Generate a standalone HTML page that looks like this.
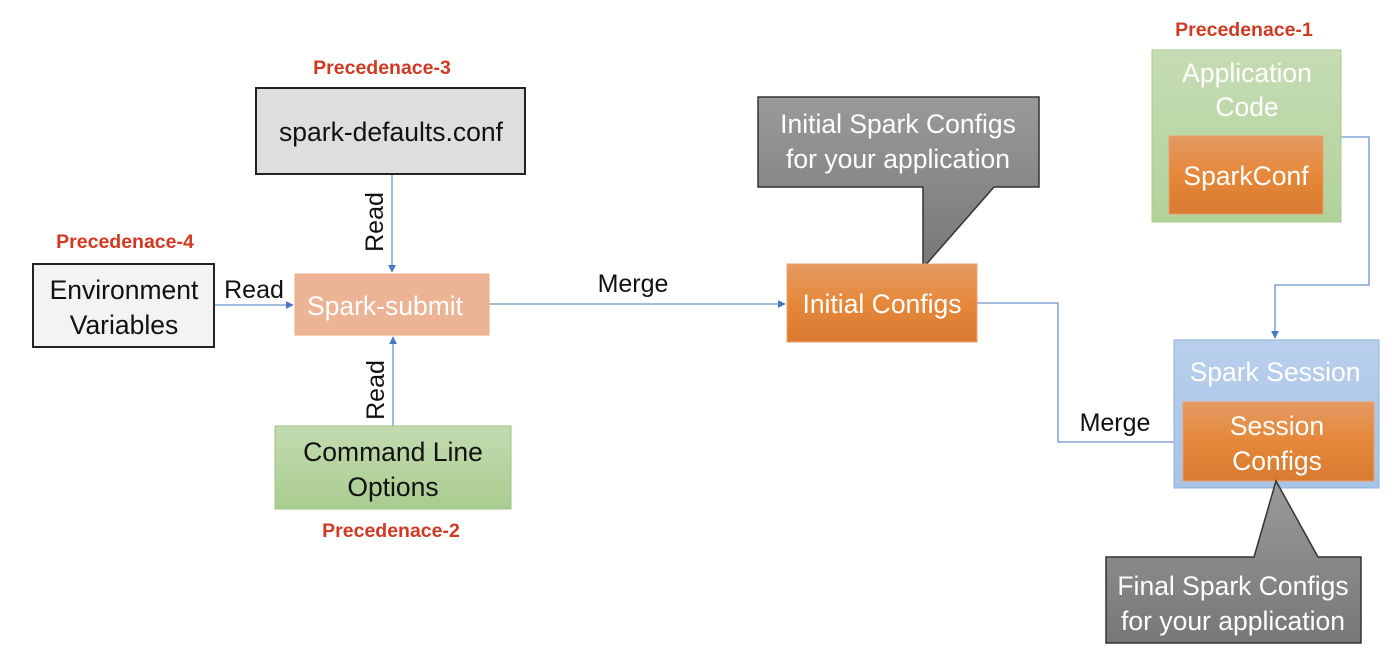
<!DOCTYPE html>
<html><head><meta charset="utf-8"><style>
html,body{margin:0;padding:0;background:#fff;}
svg{display:block;font-family:"Liberation Sans",Calibri,sans-serif;}
</style></head><body>
<svg width="1400" height="653" viewBox="0 0 1400 653" xmlns="http://www.w3.org/2000/svg">
<defs>
<linearGradient id="og" x1="0" y1="0" x2="0" y2="1"><stop offset="0" stop-color="#e39a62"/><stop offset="0.5" stop-color="#e6883a"/><stop offset="1" stop-color="#d87a30"/></linearGradient>
<linearGradient id="gg" x1="0" y1="0" x2="0" y2="1"><stop offset="0" stop-color="#c6dcb4"/><stop offset="1" stop-color="#b2d29a"/></linearGradient>
<linearGradient id="cg" x1="0" y1="0" x2="0" y2="1"><stop offset="0" stop-color="#c3dbb0"/><stop offset="1" stop-color="#a9cc90"/></linearGradient>
<linearGradient id="bg" x1="0" y1="0" x2="0" y2="1"><stop offset="0" stop-color="#b9cfec"/><stop offset="1" stop-color="#a7c3e6"/></linearGradient>
<linearGradient id="gr" x1="0" y1="0" x2="0" y2="1"><stop offset="0" stop-color="#9a9a9a"/><stop offset="1" stop-color="#777"/></linearGradient>
<marker id="ar" viewBox="0 0 10 10" refX="9" refY="5" markerWidth="8" markerHeight="8" orient="auto-start-reverse" markerUnits="userSpaceOnUse"><path d="M0,0 L10,5 L0,10 z" fill="#4a78c2"/></marker>
</defs>
<g font-weight="bold" fill="#d03a22" font-size="19.5" text-anchor="middle">
<text x="382" y="74">Precedenace-3</text>
<text x="125" y="248">Precedenace-4</text>
<text x="391" y="537">Precedenace-2</text>
<text x="1244" y="36">Precedenace-1</text>
</g>
<g stroke="#6f93cc" stroke-width="1.3" fill="none">
<line x1="392" y1="175" x2="392" y2="272" marker-end="url(#ar)"/>
<line x1="214" y1="305" x2="293" y2="305" marker-end="url(#ar)"/>
<line x1="393" y1="426" x2="393" y2="337" marker-end="url(#ar)"/>
<line x1="489" y1="304" x2="785" y2="304" marker-end="url(#ar)"/>
<polyline points="977,303 1058,303 1058,442 1181,442" marker-end="url(#ar)"/>
<polyline points="1341,137 1369,137 1369,285 1275,285 1275,338" marker-end="url(#ar)"/>
</g>
<rect x="256" y="88" width="269" height="86" fill="#dedede" stroke="#222" stroke-width="2"/>
<text x="391" y="141" font-size="26.5" text-anchor="middle" fill="#111">spark-defaults.conf</text>
<rect x="33" y="264" width="181" height="83" fill="#f3f3f3" stroke="#222" stroke-width="2"/>
<text x="124" y="299" font-size="26.5" text-anchor="middle" fill="#111">Environment</text>
<text x="124" y="334" font-size="26.5" text-anchor="middle" fill="#111">Variables</text>
<rect x="295" y="274" width="194" height="61" fill="#ecb494" stroke="#eeaa80" stroke-width="1"/>
<text x="385" y="315" font-size="26.5" text-anchor="middle" fill="#fff">Spark-submit</text>
<rect x="275" y="426" width="236" height="83" fill="url(#cg)" stroke="#9cc486" stroke-width="1"/>
<text x="393" y="461" font-size="26.5" text-anchor="middle" fill="#111">Command Line</text>
<text x="393" y="496" font-size="26.5" text-anchor="middle" fill="#111">Options</text>
<g font-size="25" fill="#111">
<text x="254" y="298" text-anchor="middle">Read</text>
<text transform="translate(383,222) rotate(-90)" text-anchor="middle">Read</text>
<text transform="translate(384,390) rotate(-90)" text-anchor="middle">Read</text>
<text x="633" y="292" text-anchor="middle">Merge</text>
<text x="1115" y="431" text-anchor="middle">Merge</text>
</g>
<path d="M758,97 L1039,97 L1039,187 L994,187 L923,268 L923,187 L758,187 Z" fill="url(#gr)" stroke="#333" stroke-width="1.5"/>
<text x="898" y="133" font-size="26.5" text-anchor="middle" fill="#fff">Initial Spark Configs</text>
<text x="898" y="168" font-size="26.5" text-anchor="middle" fill="#fff">for your application</text>
<rect x="787" y="264" width="190" height="78" fill="url(#og)" stroke="#f0a070" stroke-width="1"/>
<text x="882" y="313" font-size="26.5" text-anchor="middle" fill="#fff">Initial Configs</text>
<rect x="1152" y="50" width="189" height="172" fill="url(#gg)" stroke="#a6cc8e" stroke-width="1"/>
<text x="1247" y="82" font-size="26.5" text-anchor="middle" fill="#fff">Application</text>
<text x="1247" y="116" font-size="26.5" text-anchor="middle" fill="#fff">Code</text>
<rect x="1169" y="136" width="154" height="78" fill="url(#og)" stroke="#eea070" stroke-width="1"/>
<text x="1246" y="185" font-size="26.5" text-anchor="middle" fill="#fff">SparkConf</text>
<rect x="1174" y="340" width="205" height="148" fill="url(#bg)" stroke="#8fb0dc" stroke-width="1"/>
<text x="1275" y="381" font-size="26.5" text-anchor="middle" fill="#fff">Spark Session</text>
<rect x="1183" y="402" width="191" height="79" fill="url(#og)" stroke="#eea070" stroke-width="1"/>
<text x="1277" y="435" font-size="26.5" text-anchor="middle" fill="#fff">Session</text>
<text x="1277" y="470" font-size="26.5" text-anchor="middle" fill="#fff">Configs</text>
<path d="M1106,557 L1254,557 L1276,481 L1318,557 L1361,557 L1361,643 L1106,643 Z" fill="url(#gr)" stroke="#333" stroke-width="1.5"/>
<text x="1233" y="595" font-size="26.5" text-anchor="middle" fill="#fff">Final Spark Configs</text>
<text x="1233" y="630" font-size="26.5" text-anchor="middle" fill="#fff">for your application</text>
</svg>
</body></html>
